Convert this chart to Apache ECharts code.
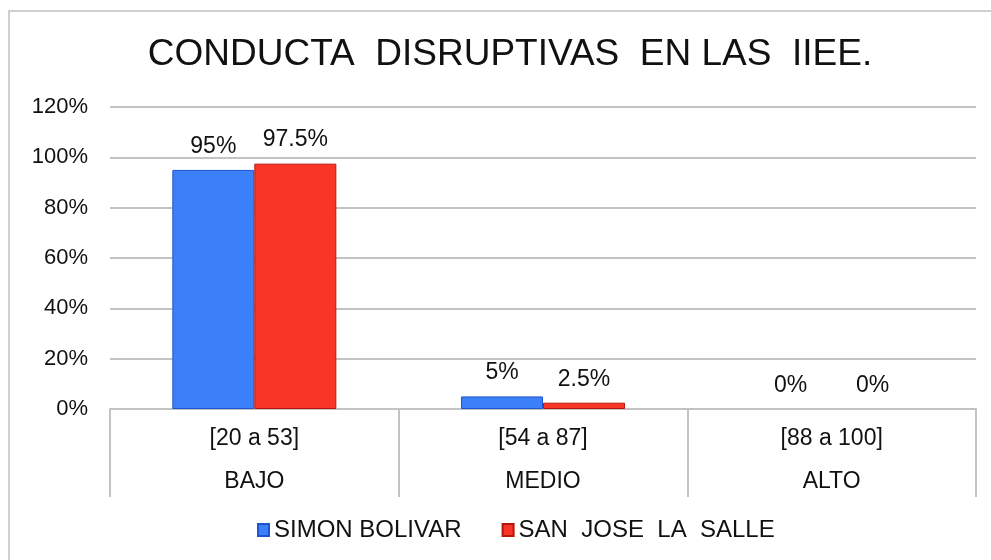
<!DOCTYPE html>
<html>
<head>
<meta charset="utf-8">
<script src="https://cdn.jsdelivr.net/npm/echarts@6/dist/echarts.min.js"></script>
<style>
	html, body { margin: 0; padding: 0; background: #fff; }
	#chart { width: 991px; height: 560px; }
</style>
</head>
<body>
<div id="chart"></div>
<script>
// 数据
const rangos = ['[20 a 53]', '[54 a 87]', '[88 a 100]'];
const niveles = ['BAJO', 'MEDIO', 'ALTO'];
const simonBolivar = [95, 5, 0];
const sanJose = [97.5, 2.5, 0];
const yTicks = [0, 20, 40, 60, 80, 100, 120];

const FONT = 'Liberation Sans, Arial, sans-serif';
const GRAY = '#c3c3c3';

const chart = echarts.init(document.getElementById('chart'));

// 0 值不画边框（避免出现一条细线）
function barData(arr) {
	return arr.map(v => v === 0 ? { value: v, itemStyle: { borderWidth: 0 } } : v);
}

function barLabel() {
	return {
		show: true,
		position: 'top',
		distance: 12,
		color: '#111',
		fontSize: 23,
		formatter: '{c}%',
		fontFamily: FONT
	};
}

chart.setOption({
	animation: false,
	textStyle: { fontFamily: FONT },
	title: {
		text: 'CONDUCTA  DISRUPTIVAS  EN LAS  IIEE.',
		left: 505,
		top: 31,
		textAlign: 'center',
		textStyle: {
			color: '#111',
			fontSize: 37,
			fontWeight: 'normal',
			fontFamily: FONT
		}
	},
	graphic: [{
		type: 'rect',
		silent: true,
		shape: { x: 9, y: 11, width: 1000, height: 600 },
		style: { fill: 'none', stroke: '#d0d0d0', lineWidth: 2 }
	}],
	legend: {
		left: 252,
		top: 513,
		itemWidth: 11,
		itemHeight: 12,
		itemGap: 40,
		icon: 'rect',
		textStyle: { color: '#111', fontSize: 24, fontFamily: FONT },
		data: ['SIMON BOLIVAR', 'SAN  JOSE  LA  SALLE']
	},
	grid: {
		left: 110,
		right: 15,
		top: 107,
		bottom: 151,
		containLabel: false
	},
	xAxis: {
		type: 'category',
		data: rangos.map((r, i) => r + '\n' + niveles[i]),
		axisLine: { lineStyle: { color: GRAY, width: 2 } },
		axisTick: {
			show: true,
			length: 88,
			lineStyle: { color: GRAY, width: 2 }
		},
		axisLabel: {
			color: '#111',
			fontSize: 23,
			lineHeight: 43,
			margin: 8,
			interval: 0,
			fontFamily: FONT
		}
	},
	yAxis: {
		type: 'value',
		min: yTicks[0],
		max: yTicks[yTicks.length - 1],
		interval: 20,
		axisLine: { show: false },
		axisTick: { show: false },
		axisLabel: {
			color: '#111',
			fontSize: 22,
			margin: 22,
			formatter: '{value}%',
			fontFamily: FONT
		},
		splitLine: { lineStyle: { color: GRAY, width: 2 } }
	},
	series: [
		{
			name: 'SIMON BOLIVAR',
			type: 'bar',
			data: barData(simonBolivar),
			barWidth: 82,
			barGap: '0%',
			itemStyle: { color: '#3b80f9', borderColor: '#1d55d0', borderWidth: 1 },
			label: barLabel()
		},
		{
			name: 'SAN  JOSE  LA  SALLE',
			type: 'bar',
			data: barData(sanJose),
			barWidth: 82,
			barGap: '0%',
			itemStyle: { color: '#f93528', borderColor: '#b8160c', borderWidth: 1 },
			label: barLabel()
		}
	]
});
</script>
</body>
</html>
